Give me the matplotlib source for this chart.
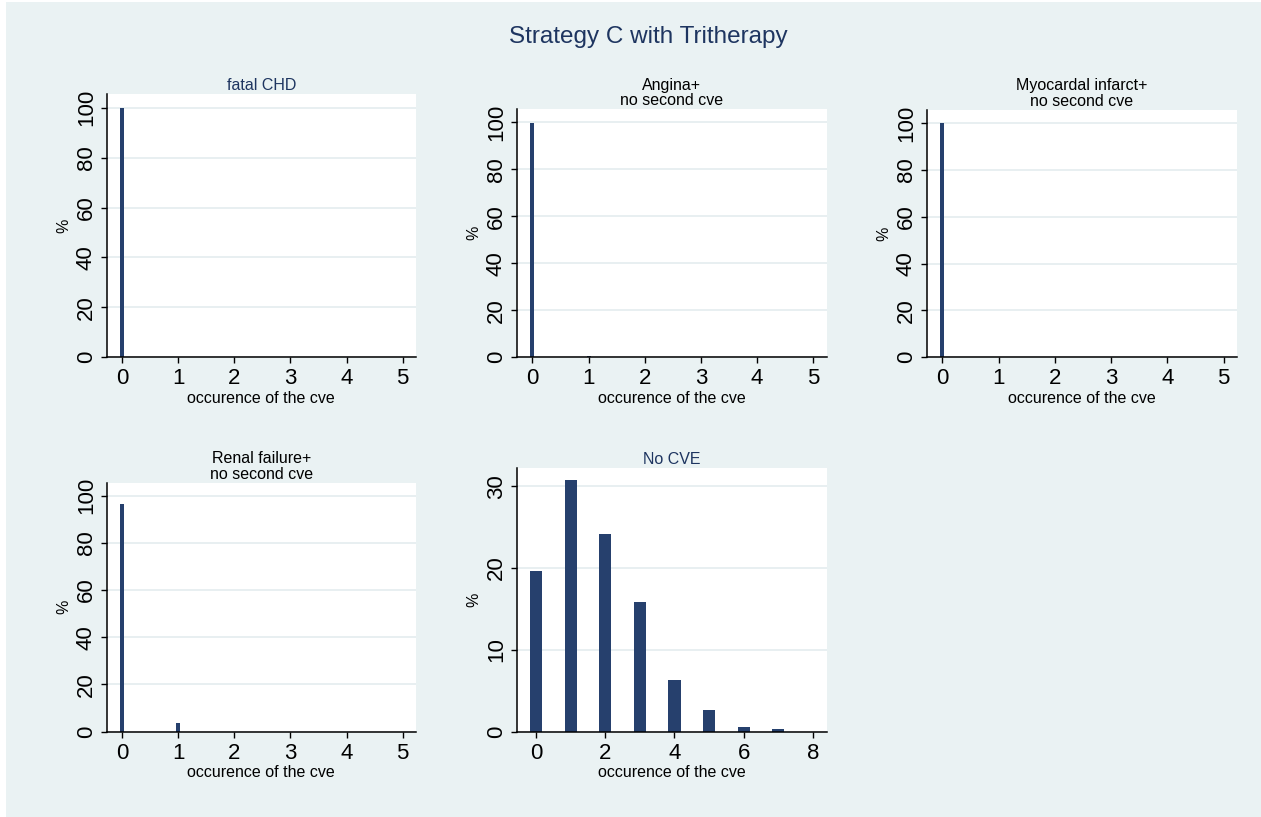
import numpy as np
import matplotlib

matplotlib.use("Agg")
import matplotlib.pyplot as plt
from matplotlib.patches import Rectangle

plt.rcParams["font.family"] = ["Liberation Sans", "DejaVu Sans"]

# data
occ_small = [0, 1, 2, 3, 4, 5]
occ_nocve = [0, 1, 2, 3, 4, 5, 6, 7, 8]

fatal_chd = [99.9, 0.1, 0, 0, 0, 0]
angina = [99.5, 0.5, 0, 0, 0, 0]
myocardial = [99.8, 0.2, 0, 0, 0, 0]
renal = [96.4, 3.6, 0, 0, 0, 0]
no_cve = [19.6, 30.8, 24.2, 15.8, 6.3, 2.6, 0.6, 0.3, 0.0]

titles = [
    "fatal CHD",
    "Angina+\nno second cve",
    "Myocardal infarct+\nno second cve",
    "Renal failure+\nno second cve",
    "No CVE",
]

W, H = 1261, 817
BG = "#eaf2f3"
BAR = "#26406d"
NAVY = "#1e3560"
GRID = "#e6eef0"


def px_rect(left, top, right, bottom):
    return [left / W, 1 - bottom / H, (right - left) / W, (bottom - top) / H]


def style_axes(ax, ylim, yticks, xlim, xticks):
    ax.set_facecolor("white")
    ax.set_xlim(*xlim)
    ax.set_ylim(*ylim)
    ax.set_xticks(xticks)
    ax.set_yticks(yticks)
    for s in ("top", "right"):
        ax.spines[s].set_visible(False)
    for s in ("left", "bottom"):
        ax.spines[s].set_linewidth(1.1)
        ax.spines[s].set_color("black")
    ax.tick_params(axis="both", length=4, width=1.0, labelsize=16, colors="black")
    ax.tick_params(axis="x", pad=4)
    ax.tick_params(axis="y", pad=3)
    for lab in ax.get_yticklabels():
        lab.set_rotation(90)
        lab.set_va("center")
    ax.yaxis.grid(True, color=GRID, linewidth=1.3)
    ax.set_axisbelow(True)
    ax.set_ylabel("%", fontsize=11.5, labelpad=3)
    ax.set_xlabel("occurence of the cve", fontsize=11.5, labelpad=1)


fig = plt.figure(figsize=(W / 100, H / 100), dpi=100, facecolor="white")
fig.patches.append(Rectangle((6 / W, 0), 1 - 6 / W, 1 - 2 / H, transform=fig.transFigure,
                             facecolor=BG, edgecolor="none", zorder=-10))

fig.text(648 / W, 1 - 37 / H, "Strategy C with Tritherapy", ha="center", va="center",
         fontsize=17.5, color=NAVY)

rects = [
    px_rect(106.7, 94, 416, 357.3),
    px_rect(516.7, 109.3, 826.7, 357.3),
    px_rect(926.7, 110, 1237, 357.3),
    px_rect(106.7, 482.7, 416, 731.7),
    px_rect(516.7, 468.3, 826.7, 731.7),
]
series = [fatal_chd, angina, myocardial, renal]

for i, vals in enumerate(series):
    ax = fig.add_axes(rects[i])
    ax.bar(occ_small, vals, width=0.07, color=BAR, edgecolor="none")
    style_axes(ax, (0, 105.5), [0, 20, 40, 60, 80, 100], (-0.28, 5.24), occ_small)
    ax.set_title(titles[i], fontsize=11.5, color=NAVY if i == 0 else "black",
                 pad=3, linespacing=1.05)

ax = fig.add_axes(rects[4])
ax.bar(occ_nocve, no_cve, width=0.35, color=BAR, edgecolor="none")
style_axes(ax, (0, 32.2), [0, 10, 20, 30], (-0.56, 8.4), [0, 2, 4, 6, 8])
ax.set_title(titles[4], fontsize=11.5, color=NAVY, pad=3)

fig.savefig("out.png", dpi=100, facecolor=fig.get_facecolor())
